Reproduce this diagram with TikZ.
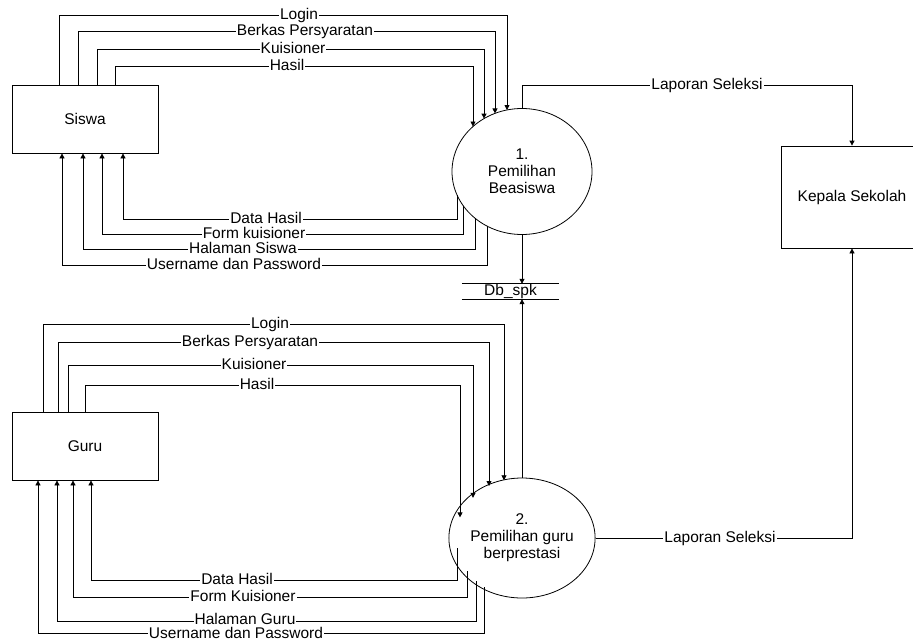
\documentclass[tikz,border=0pt]{standalone}
\usepackage{fontspec}
\setmainfont{Liberation Sans}
\usetikzlibrary{arrows.meta,shapes.geometric}
\begin{document}
\begin{tikzpicture}[x=1pt,y=-1pt,
  every node/.style={font=\fontsize{15.5}{17}\selectfont},
  ent/.style={draw, line width=0.8pt, rectangle, inner sep=0pt},
  proc/.style={draw, line width=0.8pt, ellipse, inner sep=0pt, align=center},
  store/.style={inner sep=0pt, minimum width=97pt, minimum height=15pt},
  flow/.style={draw, line width=0.8pt, -{Triangle[length=5pt,width=5pt]}},
  plain/.style={draw, line width=0.8pt},
  lbl/.style={fill=white, inner xsep=1pt, inner ysep=0pt, text height=11pt, text depth=3pt}]
\useasboundingbox (0,0) rectangle (913,641);

% external entities and processes
\node[ent, minimum width=146pt, minimum height=68pt] (siswa) at (85,119) {Siswa};
\node[ent, minimum width=146pt, minimum height=68pt] (guru) at (85,446) {Guru};
\node[ent, minimum width=142pt, minimum height=102pt] (kepala) at (852,197) {Kepala Sekolah};
\node[proc, minimum width=140pt, minimum height=126pt] (p1) at (522,171.5) {1.\\Pemilihan\\Beasiswa};
\node[proc, minimum width=132pt, minimum height=120pt] (p2) at (522,538) {2.\\Pemilihan guru\\berprestasi};

% data store
\node[store] (db) at (510.5,291.5) {Db\_spk};
\draw[plain] (db.north west) -- (db.north east);
\draw[plain] (db.south west) -- (db.south east);

% Siswa -> process 1
\draw[flow] (siswa.north -| 59,0) |- (507,15) -- ([shift={(-15,-61.5)}]p1.center)
  node[lbl] at (299,15) {Login};
\draw[flow] (siswa.north -| 78,0) |- (495,31.5) -- ([shift={(-27,-58.1)}]p1.center)
  node[lbl] at (305,31.5) {Berkas Persyaratan};
\draw[flow] (siswa.north -| 97,0) |- (484,49) -- ([shift={(-38,-52.9)}]p1.center)
  node[lbl] at (293,49) {Kuisioner};
\draw[flow] (siswa.north -| 115,0) |- (473,66) -- ([shift={(-49,-45)}]p1.center)
  node[lbl] at (287,66) {Hasil};

% process 1 -> Siswa
\draw[flow] ([shift={(-65,23.4)}]p1.center) |- (123,219) -- (siswa.south -| 123,0)
  node[lbl] at (266,219) {Data Hasil};
\draw[flow] ([shift={(-59,34)}]p1.center) |- (102,234) -- (siswa.south -| 102,0)
  node[lbl] at (254,234) {Form kuisioner};
\draw[flow] ([shift={(-47,46.7)}]p1.center) |- (83,249) -- (siswa.south -| 83,0)
  node[lbl] at (243,249) {Halaman Siswa};
\draw[flow] ([shift={(-35,54.6)}]p1.center) |- (62,265.5) -- (siswa.south -| 62,0)
  node[lbl] at (234,265.5) {Username dan Password};

% Guru -> process 2
\draw[flow] (guru.north -| 43,0) |- (504,324.5) -- ([shift={(-18,-57.7)}]p2.center)
  node[lbl] at (270,324.5) {Login};
\draw[flow] (guru.north -| 58,0) |- (489,342) -- ([shift={(-33,-52)}]p2.center)
  node[lbl] at (250,342) {Berkas Persyaratan};
\draw[flow] (guru.north -| 68,0) |- (473,365.5) -- ([shift={(-49,-40.2)}]p2.center)
  node[lbl] at (254,365.5) {Kuisioner};
\draw[flow] (guru.north -| 85,0) |- (460,385) -- ([shift={(-62,-20.6)}]p2.center)
  node[lbl] at (257,385) {Hasil};

% process 2 -> Guru
\draw[flow] ([shift={(-65,10.4)}]p2.center) |- (91,580) -- (guru.south -| 91,0)
  node[lbl] at (237,580) {Data Hasil};
\draw[flow] ([shift={(-55,33.2)}]p2.center) |- (73,597) -- (guru.south -| 73,0)
  node[lbl] at (243,597) {Form Kuisioner};
\draw[flow] ([shift={(-46,43)}]p2.center) |- (57,621.5) -- (guru.south -| 57,0)
  node[lbl] at (245,620) {Halaman Guru};
\draw[flow] ([shift={(-38,49.1)}]p2.center) |- (38,633.5) -- (guru.south -| 38,0)
  node[lbl] at (236,634.5) {Username dan Password};

% processes <-> data store
\draw[flow] (p1.south) -- (p1.south |- db.north);
\draw[flow] (p2.north) -- (p2.north |- db.south);

% reports to Kepala Sekolah
\draw[flow] (p1.north) |- (852,85) -- (kepala.north)
  node[lbl] at (707,85) {Laporan Seleksi};
\draw[flow] (p2.east) -| (kepala.south)
  node[lbl] at (720,538) {Laporan Seleksi};
\end{tikzpicture}
\end{document}
